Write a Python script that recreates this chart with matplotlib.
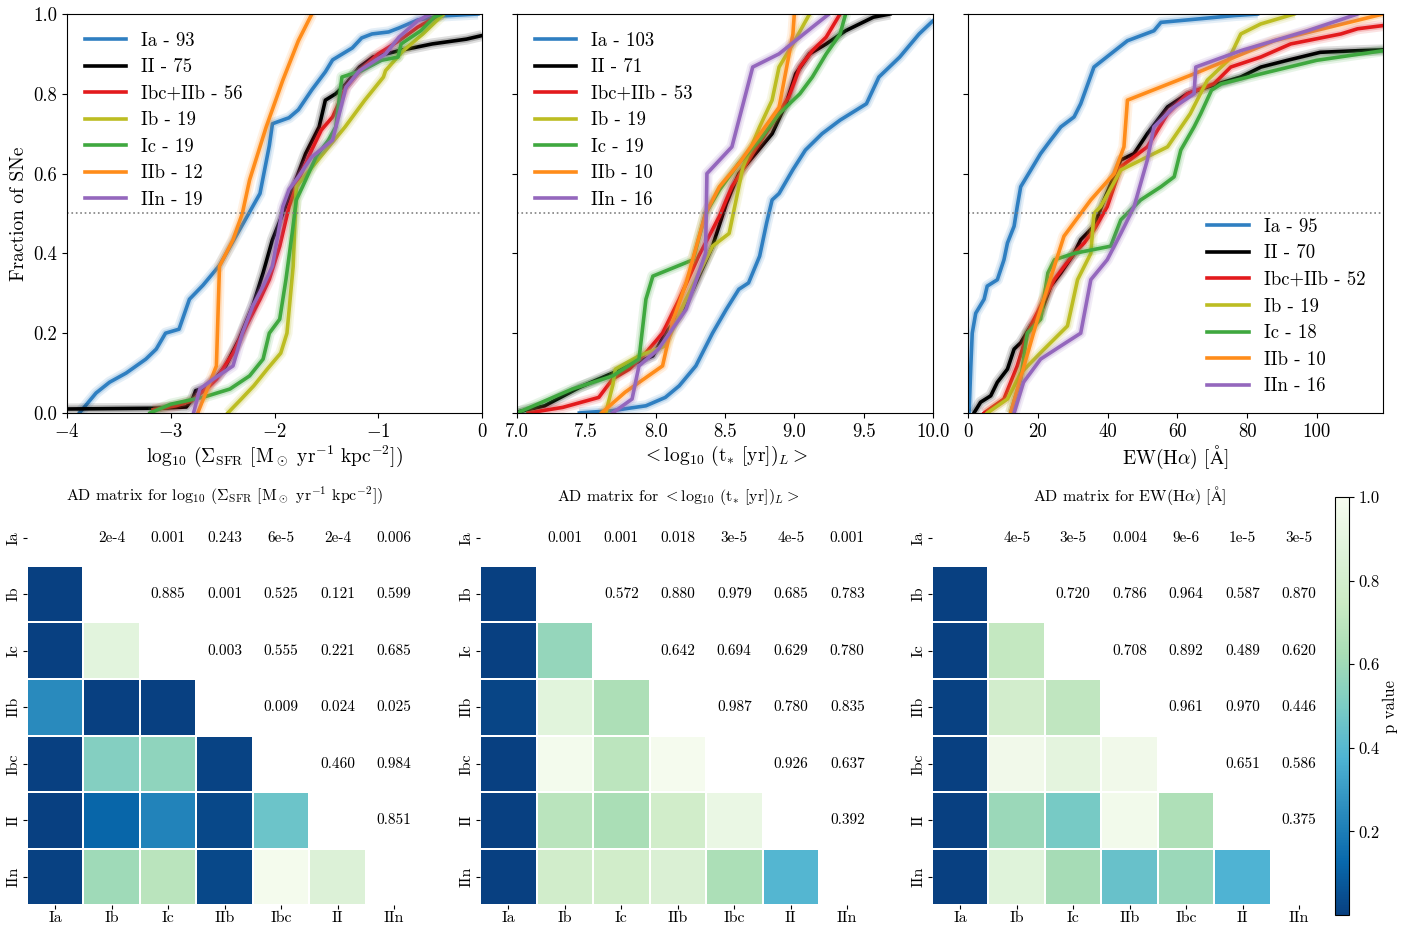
import numpy as np
import matplotlib.pyplot as plt
from matplotlib.colors import Normalize

plt.rcParams['font.family'] = ['cmr10', 'DejaVu Serif']
plt.rcParams['mathtext.fontset'] = 'cm'
plt.rcParams['axes.formatter.use_mathtext'] = True

# supernova classes in the CDF panels
sn_types = ['Ia', 'II', 'Ibc+IIb', 'Ib', 'Ic', 'IIb', 'IIn']
sn_colors = ['#2f7fc1', 'black', '#e31a1c', '#bcbd22', '#3fa83f', '#ff8c1a', '#9467bd']

sfr_counts = [93, 75, 56, 19, 19, 12, 19]
age_counts = [103, 71, 53, 19, 19, 10, 16]
ew_counts = [95, 70, 52, 19, 18, 10, 16]

# --- CDFs: log10 Sigma_SFR ---
sfr_ia_x = [-3.88, -3.72, -3.59, -3.43, -3.24, -3.14, -3.05, -2.92, -2.82, -2.69, -2.53, -2.40, -2.27, -2.14, -2.05, -2.02, -1.86, -1.77, -1.64, -1.51, -1.44, -1.25, -1.16, -1.06, -0.90, -0.80, -0.62, -0.39, -0.04]
sfr_ia_y = [0.0, 0.05, 0.077, 0.10, 0.135, 0.16, 0.20, 0.21, 0.285, 0.32, 0.37, 0.43, 0.49, 0.55, 0.67, 0.725, 0.74, 0.76, 0.81, 0.855, 0.885, 0.915, 0.94, 0.95, 0.955, 0.965, 0.985, 0.995, 1.0]
sfr_ii_x = [-4.0, -3.1, -2.85, -2.79, -2.76, -2.66, -2.56, -2.47, -2.34, -2.21, -2.11, -2.02, -1.92, -1.82, -1.70, -1.57, -1.51, -1.41, -1.31, -1.18, -1.05, -0.80, -0.48, -0.15, 0.0]
sfr_ii_y = [0.01, 0.012, 0.015, 0.035, 0.056, 0.064, 0.089, 0.118, 0.185, 0.268, 0.351, 0.434, 0.50, 0.567, 0.65, 0.717, 0.784, 0.80, 0.825, 0.867, 0.892, 0.908, 0.925, 0.937, 0.946]
sfr_ibc_x = [-3.17, -2.95, -2.80, -2.66, -2.56, -2.40, -2.27, -2.14, -2.05, -1.95, -1.86, -1.77, -1.64, -1.55, -1.44, -1.31, -1.18, -1.00, -0.80, -0.62, -0.39]
sfr_ibc_y = [0.008, 0.018, 0.03, 0.06, 0.085, 0.15, 0.22, 0.285, 0.335, 0.418, 0.517, 0.584, 0.66, 0.709, 0.742, 0.817, 0.858, 0.90, 0.933, 0.967, 1.0]
sfr_ib_x = [-2.45, -2.32, -2.20, -2.07, -1.94, -1.88, -1.85, -1.82, -1.79, -1.69, -1.50, -1.32, -1.13, -0.95, -0.93, -0.76, -0.57, -0.37]
sfr_ib_y = [0.0, 0.035, 0.068, 0.11, 0.15, 0.20, 0.284, 0.368, 0.567, 0.60, 0.66, 0.717, 0.784, 0.842, 0.858, 0.908, 0.95, 1.0]
sfr_ic_x = [-3.2, -3.0, -2.68, -2.43, -2.24, -2.11, -2.05, -1.95, -1.89, -1.83, -1.79, -1.73, -1.60, -1.48, -1.41, -1.35, -1.16, -0.97, -0.81, -0.78, -0.59, -0.46, -0.39]
sfr_ic_y = [0.0, 0.022, 0.04, 0.06, 0.093, 0.135, 0.20, 0.235, 0.334, 0.45, 0.534, 0.567, 0.642, 0.684, 0.717, 0.842, 0.858, 0.884, 0.892, 0.925, 0.958, 0.992, 1.0]
sfr_iib_x = [-2.74, -2.66, -2.56, -2.53, -2.40, -2.31, -2.24, -2.08, -1.92, -1.77, -1.64]
sfr_iib_y = [0.0, 0.052, 0.118, 0.368, 0.434, 0.50, 0.584, 0.717, 0.834, 0.933, 1.0]
sfr_iin_x = [-2.78, -2.72, -2.59, -2.40, -2.31, -2.21, -2.11, -2.02, -1.92, -1.86, -1.77, -1.64, -1.44, -1.31, -1.18, -0.93, -0.80, -0.62, -0.50]
sfr_iin_y = [0.0, 0.06, 0.085, 0.118, 0.20, 0.268, 0.318, 0.368, 0.517, 0.56, 0.592, 0.642, 0.684, 0.817, 0.858, 0.90, 0.942, 0.983, 1.0]

# --- CDFs: light-weighted stellar age ---
age_ia_x = [7.45, 7.69, 7.93, 8.07, 8.17, 8.29, 8.41, 8.51, 8.60, 8.67, 8.75, 8.80, 8.84, 8.89, 8.99, 9.08, 9.20, 9.33, 9.52, 9.61, 9.76, 9.90, 10.0]
age_ia_y = [0.0, 0.006, 0.018, 0.039, 0.068, 0.118, 0.20, 0.26, 0.31, 0.326, 0.393, 0.476, 0.534, 0.55, 0.61, 0.659, 0.70, 0.734, 0.775, 0.842, 0.892, 0.95, 0.983]
age_ii_x = [7.0, 7.20, 7.45, 7.69, 7.83, 7.98, 8.07, 8.17, 8.27, 8.41, 8.51, 8.60, 8.72, 8.84, 8.94, 9.01, 9.11, 9.23, 9.37, 9.57, 9.69]
age_ii_y = [0.002, 0.018, 0.064, 0.10, 0.122, 0.143, 0.20, 0.243, 0.31, 0.418, 0.525, 0.60, 0.65, 0.70, 0.775, 0.85, 0.90, 0.925, 0.958, 0.992, 1.0]
age_ibc_x = [7.08, 7.33, 7.59, 7.69, 7.81, 7.93, 8.05, 8.17, 8.31, 8.46, 8.55, 8.70, 8.84, 8.96, 9.04, 9.13, 9.23, 9.33]
age_ibc_y = [0.0, 0.014, 0.039, 0.085, 0.11, 0.151, 0.20, 0.285, 0.393, 0.493, 0.567, 0.65, 0.725, 0.792, 0.867, 0.908, 0.942, 1.0]
age_ib_x = [7.64, 7.69, 7.71, 7.88, 8.07, 8.22, 8.41, 8.53, 8.63, 8.75, 8.84, 8.89, 8.99, 9.11]
age_ib_y = [0.0, 0.068, 0.11, 0.143, 0.168, 0.285, 0.418, 0.45, 0.617, 0.717, 0.784, 0.867, 0.925, 1.0]
age_ic_x = [7.0, 7.40, 7.69, 7.88, 7.93, 7.98, 8.27, 8.36, 8.46, 8.60, 8.75, 8.89, 9.04, 9.13, 9.23, 9.33, 9.37]
age_ic_y = [0.0, 0.06, 0.093, 0.135, 0.285, 0.343, 0.384, 0.50, 0.559, 0.626, 0.684, 0.75, 0.80, 0.842, 0.90, 0.95, 1.0]
age_iib_x = [7.61, 7.78, 8.05, 8.12, 8.22, 8.36, 8.46, 8.60, 8.89, 8.99, 9.00]
age_iib_y = [0.0, 0.052, 0.118, 0.226, 0.326, 0.50, 0.567, 0.625, 0.766, 0.95, 1.0]
age_iin_x = [7.69, 7.83, 7.88, 8.02, 8.22, 8.36, 8.37, 8.55, 8.70, 8.89, 9.04, 9.13, 9.25]
age_iin_y = [0.0, 0.035, 0.118, 0.16, 0.26, 0.40, 0.60, 0.667, 0.867, 0.90, 0.942, 0.967, 1.0]

# --- CDFs: EW(Halpha) ---
ew_ia_x = [0.3, 0.8, 1.2, 2.2, 4.6, 5.5, 8.4, 10.3, 11.3, 13.2, 14.1, 15.1, 18.0, 20.8, 23.7, 26.6, 30.4, 32.3, 36.1, 40.9, 45.7, 53.3, 55.3, 76.3, 83.0]
ew_ia_y = [0.0, 0.118, 0.20, 0.25, 0.285, 0.318, 0.334, 0.384, 0.426, 0.468, 0.517, 0.567, 0.609, 0.65, 0.684, 0.717, 0.742, 0.775, 0.867, 0.90, 0.933, 0.958, 0.979, 0.996, 1.0]
ew_ii_x = [1.7, 3.6, 6.5, 8.4, 11.3, 13.2, 15.1, 18.0, 20.8, 23.7, 26.6, 30.4, 32.3, 36.1, 39.0, 43.8, 47.6, 51.4, 57.2, 62.9, 68.6, 78.2, 84.0, 91.6, 101.0, 111.7, 119.0]
ew_ii_y = [0.0, 0.027, 0.043, 0.077, 0.11, 0.16, 0.176, 0.218, 0.25, 0.318, 0.351, 0.40, 0.434, 0.468, 0.534, 0.634, 0.65, 0.70, 0.767, 0.80, 0.817, 0.842, 0.867, 0.884, 0.904, 0.908, 0.91]
ew_ibc_x = [4.6, 10.3, 14.1, 17.0, 20.8, 24.7, 30.4, 33.3, 36.1, 39.9, 43.8, 47.6, 51.4, 57.2, 62.9, 70.5, 75.3, 83.9, 92.5, 106.9, 111.7, 119.0]
ew_ibc_y = [0.0, 0.035, 0.118, 0.20, 0.268, 0.334, 0.40, 0.426, 0.459, 0.517, 0.617, 0.642, 0.667, 0.75, 0.80, 0.825, 0.867, 0.892, 0.925, 0.95, 0.963, 0.971]
ew_ib_x = [5.5, 11.3, 15.1, 20.8, 28.5, 31.4, 35.2, 36.1, 38.0, 43.8, 51.4, 57.2, 63.7, 68.6, 74.6, 78.2, 83.9, 93.5]
ew_ib_y = [0.0, 0.035, 0.10, 0.151, 0.218, 0.334, 0.40, 0.50, 0.517, 0.609, 0.642, 0.667, 0.75, 0.834, 0.884, 0.95, 0.975, 1.0]
ew_ic_x = [12.2, 15.1, 17.0, 20.8, 22.9, 24.8, 30.4, 40.9, 43.8, 49.5, 55.3, 59.1, 61.0, 64.8, 66.7, 69.8, 72.6, 84.0, 100.0, 119.0]
ew_ic_y = [0.0, 0.085, 0.20, 0.235, 0.351, 0.384, 0.40, 0.418, 0.484, 0.534, 0.567, 0.592, 0.659, 0.717, 0.75, 0.809, 0.825, 0.85, 0.884, 0.908]
ew_iib_x = [12.2, 19.9, 27.5, 35.2, 41.9, 44.7, 45.7, 64.8, 87.8, 119.0]
ew_iib_y = [0.0, 0.235, 0.443, 0.534, 0.60, 0.667, 0.784, 0.85, 0.933, 1.0]
ew_iin_x = [13.2, 15.9, 20.8, 26.6, 32.3, 35.2, 39.9, 43.8, 47.6, 51.4, 53.3, 59.1, 64.8, 65.3, 78.2, 97.3, 111.7]
ew_iin_y = [0.0, 0.077, 0.135, 0.168, 0.20, 0.334, 0.384, 0.45, 0.517, 0.634, 0.717, 0.767, 0.80, 0.867, 0.908, 0.958, 1.0]

# --- Anderson-Darling p values (upper triangle, row by row) ---
ad_types = ['Ia', 'Ib', 'Ic', 'IIb', 'Ibc', 'II', 'IIn']
sfr_pvals = [[2e-4, 0.001, 0.243, 6e-5, 2e-4, 0.006],
             [0.885, 0.001, 0.525, 0.121, 0.599],
             [0.003, 0.555, 0.221, 0.685],
             [0.009, 0.024, 0.025],
             [0.460, 0.984],
             [0.851]]
age_pvals = [[0.001, 0.001, 0.018, 3e-5, 4e-5, 0.001],
             [0.572, 0.880, 0.979, 0.685, 0.783],
             [0.642, 0.694, 0.629, 0.780],
             [0.987, 0.780, 0.835],
             [0.926, 0.637],
             [0.392]]
ew_pvals = [[4e-5, 3e-5, 0.004, 9e-6, 1e-5, 3e-5],
            [0.720, 0.786, 0.964, 0.587, 0.870],
            [0.708, 0.892, 0.489, 0.620],
            [0.961, 0.970, 0.446],
            [0.651, 0.586],
            [0.375]]

sfr_label = r'log$_{10}$ ($\Sigma_{\rm SFR}$ [M$_\odot$ yr$^{-1}$ kpc$^{-2}$])'
age_label = r'${<}$log$_{10}$ (t$_{{*}}$ [yr])$_L{>}$'
ew_label = r'EW(H$\alpha$) [$\mathrm{\AA}$]'

sfr_curves = [(sfr_ia_x, sfr_ia_y), (sfr_ii_x, sfr_ii_y), (sfr_ibc_x, sfr_ibc_y), (sfr_ib_x, sfr_ib_y),
              (sfr_ic_x, sfr_ic_y), (sfr_iib_x, sfr_iib_y), (sfr_iin_x, sfr_iin_y)]
age_curves = [(age_ia_x, age_ia_y), (age_ii_x, age_ii_y), (age_ibc_x, age_ibc_y), (age_ib_x, age_ib_y),
              (age_ic_x, age_ic_y), (age_iib_x, age_iib_y), (age_iin_x, age_iin_y)]
ew_curves = [(ew_ia_x, ew_ia_y), (ew_ii_x, ew_ii_y), (ew_ibc_x, ew_ibc_y), (ew_ib_x, ew_ib_y),
             (ew_ic_x, ew_ic_y), (ew_iib_x, ew_iib_y), (ew_iin_x, ew_iin_y)]


def fmt_p(p):
    if p < 0.001:
        s = '%.0e' % p
        return s.replace('e-0', 'e-')
    return '%.3f' % p


def full_matrix(upper):
    n = len(upper) + 1
    m = np.full((n, n), np.nan)
    for i, row in enumerate(upper):
        for k, p in enumerate(row):
            j = i + 1 + k
            m[i, j] = p
            m[j, i] = p
    return m


fig = plt.figure(figsize=(14.19, 9.27), dpi=100)

cdf_pos = [[0.0472, 0.5545, 0.2925, 0.4304],
           [0.3643, 0.5545, 0.2932, 0.4304],
           [0.6822, 0.5545, 0.2925, 0.4304]]
panels = [(sfr_curves, sfr_counts, sfr_label, (-4, 0), [-4, -3, -2, -1, 0], 'upper left'),
          (age_curves, age_counts, age_label, (7, 10), [7.0, 7.5, 8.0, 8.5, 9.0, 9.5, 10.0], 'upper left'),
          (ew_curves, ew_counts, ew_label, (0, 119), [0, 20, 40, 60, 80, 100], 'lower right')]

for k, (curves, counts, xlabel, xlim, xticks, legloc) in enumerate(panels):
    ax = fig.add_axes(cdf_pos[k])
    handles = []
    for (x, y), c, t, n in zip(curves, sn_colors, sn_types, counts):
        # soft halo standing in for the bootstrap realisations
        ax.plot(x, y, color=c, lw=8, alpha=0.12, solid_capstyle='butt')
        ax.plot(x, y, color=c, lw=5, alpha=0.2, solid_capstyle='butt')
        h, = ax.plot(x, y, color=c, lw=2.6, label='%s - %d' % (t, n))
        handles.append(h)
    ax.axhline(0.5, color='gray', ls=':', lw=1.2)
    ax.set_xlim(*xlim)
    ax.set_ylim(0, 1)
    ax.set_xticks(xticks)
    ax.set_yticks([0.0, 0.2, 0.4, 0.6, 0.8, 1.0])
    if k == 2:
        ax.set_xticklabels(['%d' % v for v in xticks])
    elif k == 1:
        ax.set_xticklabels(['%.1f' % v for v in xticks])
    ax.tick_params(labelsize=13.5)
    ax.set_xlabel(xlabel, fontsize=14, labelpad=2)
    if k == 0:
        ax.set_yticklabels(['0.0', '0.2', '0.4', '0.6', '0.8', '1.0'])
        ax.set_ylabel('Fraction of SNe', fontsize=14)
    else:
        ax.set_yticklabels([])
    ax.legend(handles=handles, loc=legloc, frameon=False, fontsize=13.5,
              handlelength=2.2, labelspacing=0.46, borderaxespad=0.55)

# AD matrices
cmap = plt.get_cmap('GnBu_r')
norm = Normalize(vmin=0.0, vmax=1.0)
ad_pos = [[0.0190, 0.0237, 0.2787, 0.4267],
          [0.3383, 0.0237, 0.2787, 0.4267],
          [0.6568, 0.0237, 0.2787, 0.4267]]
ad_titles = ['AD matrix for ' + sfr_label, 'AD matrix for ' + age_label, 'AD matrix for ' + ew_label]

mesh = None
for k, upper in enumerate([sfr_pvals, age_pvals, ew_pvals]):
    ax = fig.add_axes(ad_pos[k])
    m = full_matrix(upper)
    n = len(ad_types)
    lower = np.ma.masked_where(np.triu(np.ones((n, n), bool)), m)
    mesh = ax.pcolormesh(np.arange(n + 1), np.arange(n + 1), lower, cmap=cmap, norm=norm,
                         edgecolors='white', linewidth=1.2)
    for i in range(n):
        for j in range(i + 1, n):
            ax.text(j + 0.5, i + 0.5, fmt_p(m[i, j]), ha='center', va='center', fontsize=11)
    ax.set_xlim(0, n)
    ax.set_ylim(n, 0)
    ax.set_xticks(np.arange(n) + 0.5)
    ax.set_xticklabels(ad_types)
    ax.set_yticks(np.arange(n) + 0.5)
    ax.set_yticklabels(ad_types, rotation=90, va='center')
    ax.tick_params(labelsize=11.5, length=3, pad=1.5)
    for s in ax.spines.values():
        s.set_visible(False)
    ax.set_title(ad_titles[k], fontsize=11.5, pad=6)

cax = fig.add_axes([0.9408, 0.0129, 0.0099, 0.451])
cbar = fig.colorbar(mesh, cax=cax)
cbar.set_ticks([0.2, 0.4, 0.6, 0.8, 1.0])
cbar.set_ticklabels(['0.2', '0.4', '0.6', '0.8', '1.0'])
cbar.ax.tick_params(labelsize=12)
cbar.set_label('p value', fontsize=12, labelpad=2)

fig.savefig('out.png', dpi=100)
